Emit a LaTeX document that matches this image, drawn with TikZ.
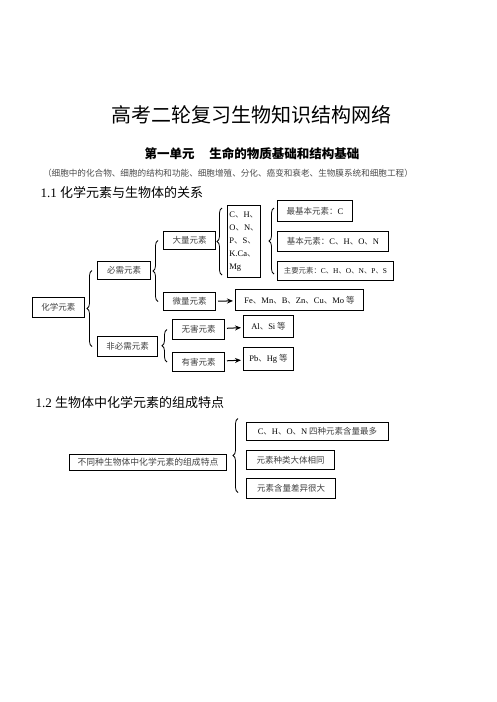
\documentclass[tikz,border=0pt]{standalone}
\usepackage{fontspec}
\setmainfont{Liberation Serif}
\newfontfamily\cjk{Noto Sans CJK SC}
\usetikzlibrary{arrows.meta,calc,decorations.pathreplacing}
\newcommand{\en}[1]{{\rmfamily\color{black}#1}}
\tikzset{
  kuang/.style={draw, line width=1pt, anchor=north west, inner sep=0pt, font=\fontsize{8.5}{10}\selectfont\cjk, text=black!75},
  kuohao/.style={decorate, decoration={brace, amplitude=5pt}, line width=0.8pt},
  jiantou/.style={-{Stealth[length=6pt,width=5pt]}, line width=1pt, shorten <=2pt, shorten >=2pt},
}
\begin{document}
\begin{tikzpicture}[x=1pt,y=1pt,yscale=-1]
    \useasboundingbox (0,0) rectangle (496,702);
    % titles
    \node[font=\fontsize{20}{24}\selectfont\cjk] (biaoti) at (251,115) {高考二轮复习生物知识结构网络};
    \node[font=\fontsize{12.5}{15}\selectfont\cjk\bfseries] (danyuan) at (252,154) {第一单元\hspace{1.2em}生命的物质基础和结构基础};
    \node[font=\fontsize{8.6}{10}\selectfont\cjk, text=black!70] (fanwei) at (228,173) {（细胞中的化合物、细胞的结构和功能、细胞增殖、分化、癌变和衰老、生物膜系统和细胞工程）};
    \node[anchor=west, font=\fontsize{13}{15}\selectfont] (jie1) at (37,192) {1.1 {\cjk 化学元素与生物体的关系}};

    % 1.1 boxes
    \node[kuang, minimum width=52, minimum height=20] (huaxue) at (32,297) {化学元素};
    \node[kuang, minimum width=53, minimum height=18] (bixu) at (97,261) {必需元素};
    \node[kuang, minimum width=60, minimum height=20] (feibixu) at (97,336) {非必需元素};
    \node[kuang, minimum width=52, minimum height=18] (dali) at (163,231) {大量元素};
    \node[kuang, minimum width=52, minimum height=18] (weiliang) at (163,292) {微量元素};
    \node[kuang, minimum width=52, minimum height=20] (wuhai) at (172,319) {无害元素};
    \node[kuang, minimum width=52, minimum height=19] (youhai) at (172,352) {有害元素};
    \node[kuang, minimum width=33, minimum height=72, align=left, font=\fontsize{8.5}{13}\selectfont\cjk] (cbox) at (227,205)
        {\en{C}、\en{H}、\\\en{O}、\en{N}、\\\en{P}、\en{S}、\\\en{K.Ca}、\\\en{Mg}};
    \node[kuang, minimum width=75, minimum height=21] (zuiji) at (277,200) {最基本元素：\en{C}};
    \node[kuang, minimum width=111, minimum height=20] (jiben) at (277,231) {基本元素：\en{C}、\en{H}、\en{O}、\en{N}};
    \node[kuang, minimum width=116, minimum height=19, inner xsep=5pt, font=\fontsize{7.4}{10}\selectfont\cjk] (zhuyao) at (277,261) {主要元素：\en{C}、\en{H}、\en{O}、\en{N}、\en{P}、\en{S}};
    \node[kuang, minimum width=128, minimum height=21] (fe) at (235,289) {\en{Fe}、\en{Mn}、\en{B}、\en{Zn}、\en{Cu}、\en{Mo} 等};
    \node[kuang, minimum width=50, minimum height=22] (al) at (243,315) {\en{Al}、\en{Si} 等};
    \node[kuang, minimum width=50, minimum height=23] (pb) at (243,347) {\en{Pb}、\en{Hg} 等};

    % 1.1 braces
    \draw[kuohao] ($(feibixu.west)+(-5,0)$) -- ($(bixu.west)+(-5,0)$);
    \draw[kuohao] ($(weiliang.west)+(-5,0)$) -- ($(dali.west)+(-5,0)$);
    \draw[kuohao] ($(youhai.west)+(-5,0)$) -- ($(wuhai.west)+(-5,0)$);
    \draw[kuohao] ($(cbox.south west)+(-5,-3)$) -- ($(cbox.north west)+(-5,3)$);
    \draw[kuohao] ($(zhuyao.west)+(-3,3)$) -- ($(zuiji.west)+(-3,-3)$);

    % 1.1 arrows
    \draw[jiantou] (weiliang) -- (fe);
    \draw[jiantou] (wuhai) -- (al);
    \draw[jiantou] (youhai) -- (pb);

    % 1.2
    \node[anchor=west, font=\fontsize{13}{15}\selectfont] (jie2) at (32,403) {1.2 {\cjk 生物体中化学元素的组成特点}};
    \node[kuang, minimum width=157, minimum height=16, font=\fontsize{8.8}{10}\selectfont\cjk] (butong) at (69,454) {不同种生物体中化学元素的组成特点};
    \node[kuang, minimum width=142, minimum height=18] (tedian1) at (246,422) {\en{C}、\en{H}、\en{O}、\en{N} 四种元素含量最多};
    \node[kuang, minimum width=88, minimum height=19] (tedian2) at (246,450) {元素种类大体相同};
    \node[kuang, minimum width=89, minimum height=20] (tedian3) at (246,478) {元素含量差异很大};
    \draw[kuohao] ($(tedian3.west)+(-8,4)$) -- ($(tedian1.west)+(-8,-13)$);
\end{tikzpicture}
\end{document}
